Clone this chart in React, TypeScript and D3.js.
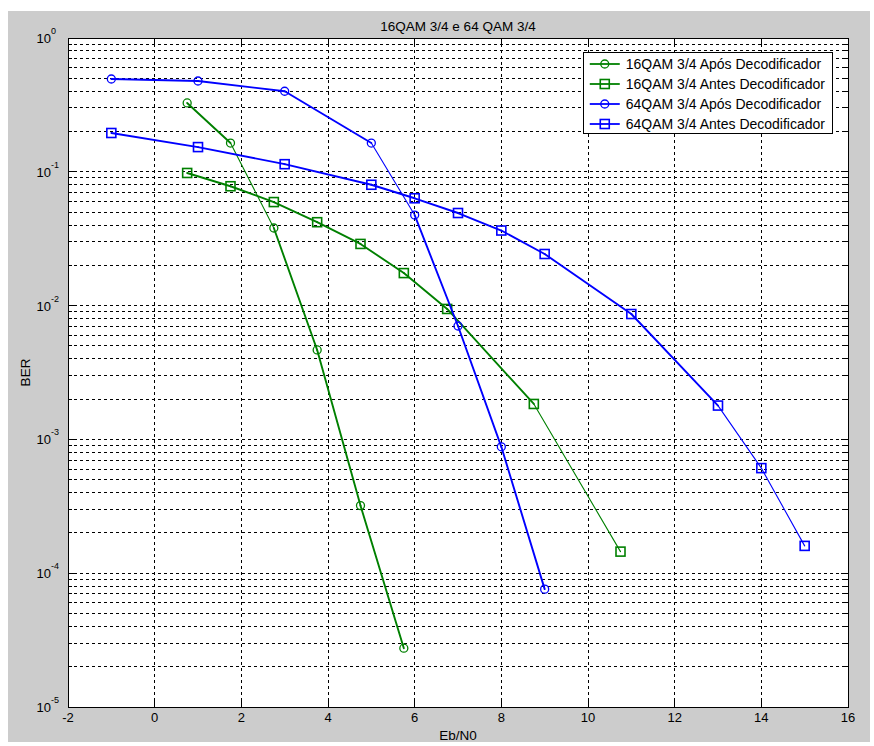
import React, { useEffect, useRef } from "react";
import * as d3 from "d3";

const TITLE = "16QAM 3/4 e 64 QAM 3/4";
const X_LABEL = "Eb/N0";
const Y_LABEL = "BER";
const X_TICKS = [-2, 0, 2, 4, 6, 8, 10, 12, 14, 16];
const Y_EXPONENTS = [0, -1, -2, -3, -4, -5];

const SERIES_NAMES = [
  "16QAM 3/4 Após Decodificador",
  "16QAM 3/4 Antes Decodificador",
  "64QAM 3/4 Após Decodificador",
  "64QAM 3/4 Antes Decodificador",
];

const qam16AposX = [0.75, 1.75, 2.75, 3.75, 4.75, 5.75];
const qam16AposY = [0.327, 0.164, 0.038, 0.00466, 3.2e-4, 2.75e-5];
const qam16AntesX = [0.75, 1.75, 2.75, 3.75, 4.75, 5.75, 6.75, 8.75, 10.75];
const qam16AntesY = [0.098, 0.078, 0.0594, 0.042, 0.0289, 0.0175, 0.00944, 0.00184, 1.45e-4];
const qam64AposX = [-1, 1, 3, 5, 6, 7, 8, 9];
const qam64AposY = [0.494, 0.477, 0.4, 0.164, 0.0475, 0.00704, 8.8e-4, 7.6e-5];
const qam64AntesX = [-1, 1, 3, 5, 6, 7, 8, 9, 11, 13, 14, 15];
const qam64AntesY = [0.195, 0.153, 0.114, 0.08, 0.0634, 0.0492, 0.0364, 0.0243, 0.00865, 0.00179, 6.1e-4, 1.6e-4];

// segment indices (style only) that appear thinner in the rendering
const THIN_SEGMENTS = [[1], [7], [3], [9, 10]];

const W = 874;
const H = 746;
const FONT = "'Liberation Sans', Arial, Helvetica, sans-serif";

export default function App() {
  const ref = useRef<SVGSVGElement | null>(null);

  useEffect(() => {
    const svg = d3.select(ref.current);
    svg.selectAll("*").remove();

    const left = 68, right = 848, top = 38, bottom = 707;
    const x = d3.scaleLinear().domain([-2, 16]).range([left, right]);
    const y = d3.scaleLog().domain([1e-5, 1]).range([bottom, top]);

    svg.append("rect").attr("x", 8).attr("y", 11).attr("width", 862).attr("height", 731).attr("fill", "#cccccc");
    svg.append("rect").attr("x", left).attr("y", top).attr("width", right - left).attr("height", bottom - top).attr("fill", "#ffffff");

    const grid = svg.append("g").attr("stroke", "#000").attr("stroke-width", 1).attr("stroke-dasharray", "3,3").attr("shape-rendering", "crispEdges");
    X_TICKS.slice(1, -1).forEach((t) => {
      grid.append("line").attr("x1", x(t)).attr("x2", x(t)).attr("y1", top).attr("y2", bottom);
    });
    const minorVals: number[] = [];
    Y_EXPONENTS.slice(1).forEach((e) => {
      for (let k = 1; k <= 9; k++) minorVals.push(k * Math.pow(10, e));
    });
    minorVals.forEach((v) => {
      if (v >= 1 || v <= 1e-5) return;
      grid.append("line").attr("x1", left).attr("x2", right).attr("y1", y(v)).attr("y2", y(v));
    });

    const ticks = svg.append("g").attr("stroke", "#000").attr("stroke-width", 1).attr("shape-rendering", "crispEdges");
    X_TICKS.forEach((t) => {
      ticks.append("line").attr("x1", x(t)).attr("x2", x(t)).attr("y1", bottom).attr("y2", bottom - 7);
      ticks.append("line").attr("x1", x(t)).attr("x2", x(t)).attr("y1", top).attr("y2", top + 7);
    });
    minorVals.forEach((v) => {
      const isMajor = Math.abs(Math.log10(v) - Math.round(Math.log10(v))) < 1e-9;
      const len = isMajor ? 7 : 4;
      ticks.append("line").attr("x1", left).attr("x2", left + len).attr("y1", y(v)).attr("y2", y(v));
      ticks.append("line").attr("x1", right).attr("x2", right - len).attr("y1", y(v)).attr("y2", y(v));
    });

    svg.append("rect").attr("x", left).attr("y", top).attr("width", right - left).attr("height", bottom - top)
      .attr("fill", "none").attr("stroke", "#000").attr("stroke-width", 1).attr("shape-rendering", "crispEdges");

    const lab = svg.append("g").attr("font-family", FONT).attr("fill", "#000");
    X_TICKS.forEach((t) => {
      lab.append("text").attr("x", x(t)).attr("y", 722).attr("text-anchor", "middle").attr("font-size", 13).text(String(t));
    });
    Y_EXPONENTS.forEach((e) => {
      const yy = y(Math.pow(10, e));
      lab.append("text").attr("x", 51).attr("y", yy + 5).attr("text-anchor", "end").attr("font-size", 13).text("10");
      lab.append("text").attr("x", 51).attr("y", yy - 4).attr("text-anchor", "start").attr("font-size", 9).text(String(e));
    });

    svg.append("text").attr("x", (left + right) / 2).attr("y", 31).attr("text-anchor", "middle")
      .attr("font-family", FONT).attr("font-size", 13.5).text(TITLE);
    svg.append("text").attr("x", (left + right) / 2).attr("y", 740).attr("text-anchor", "middle")
      .attr("font-family", FONT).attr("font-size", 13.5).text(X_LABEL);
    svg.append("text").attr("transform", `translate(30,${(top + bottom) / 2}) rotate(-90)`).attr("text-anchor", "middle")
      .attr("font-family", FONT).attr("font-size", 13.5).text(Y_LABEL);

    const series = [
      { name: SERIES_NAMES[0], xs: qam16AposX, ys: qam16AposY, color: "#008000", marker: "circle", thin: THIN_SEGMENTS[0] },
      { name: SERIES_NAMES[1], xs: qam16AntesX, ys: qam16AntesY, color: "#008000", marker: "square", thin: THIN_SEGMENTS[1] },
      { name: SERIES_NAMES[2], xs: qam64AposX, ys: qam64AposY, color: "#0000ff", marker: "circle", thin: THIN_SEGMENTS[2] },
      { name: SERIES_NAMES[3], xs: qam64AntesX, ys: qam64AntesY, color: "#0000ff", marker: "square", thin: THIN_SEGMENTS[3] },
    ];

    const line = d3.line<[number, number]>().x((d) => x(d[0])).y((d) => y(d[1]));

    const drawMarker = (g: any, cx: number, cy: number, kind: string, color: string) => {
      if (kind === "circle") {
        g.append("circle").attr("cx", cx).attr("cy", cy).attr("r", 4).attr("fill", "none").attr("stroke", color).attr("stroke-width", 1.3);
      } else {
        g.append("rect").attr("x", cx - 4.5).attr("y", cy - 4.5).attr("width", 9).attr("height", 9).attr("fill", "none").attr("stroke", color).attr("stroke-width", 1.6);
      }
    };

    const plot = svg.append("g");
    series.forEach((s) => {
      const pts: [number, number][] = s.xs.map((v, i) => [v, s.ys[i]]);
      for (let i = 0; i < pts.length - 1; i++) {
        const thin = s.thin.includes(i);
        plot.append("path").attr("d", line([pts[i], pts[i + 1]]))
          .attr("fill", "none").attr("stroke", s.color).attr("stroke-width", thin ? 1.1 : 1.9).attr("stroke-linecap", "round");
      }
      pts.forEach((p) => drawMarker(plot, x(p[0]), y(p[1]), s.marker, s.color));
    });

    const lg = svg.append("g");
    const box = lg.append("rect").attr("fill", "#fff").attr("stroke", "#000").attr("stroke-width", 1).attr("shape-rendering", "crispEdges");
    const texts: any[] = [];
    series.forEach((s, i) => {
      const t = lg.append("text").attr("y", 64 + i * 20 + 5).attr("font-family", FONT).attr("font-size", 14).text(s.name);
      texts.push(t);
    });
    let maxW = 0;
    texts.forEach((t) => { maxW = Math.max(maxW, (t.node() as SVGTextElement).getComputedTextLength()); });
    const boxRight = 832;
    const textX = boxRight - 7 - maxW;
    const lineX1 = textX - 36, lineX2 = textX - 6;
    const boxLeft = lineX1 - 6;
    box.attr("x", boxLeft).attr("y", 52).attr("width", boxRight - boxLeft).attr("height", 81);
    series.forEach((s, i) => {
      const yy = 64 + i * 20;
      texts[i].attr("x", textX);
      lg.append("line").attr("x1", lineX1).attr("x2", lineX2).attr("y1", yy).attr("y2", yy).attr("stroke", s.color).attr("stroke-width", 1.8);
      drawMarker(lg, (lineX1 + lineX2) / 2, yy, s.marker, s.color);
    });
  }, []);

  return (
    <svg ref={ref} width={W} height={H} style={{ position: "absolute", left: 0, top: 0, background: "#ffffff" }} />
  );
}
